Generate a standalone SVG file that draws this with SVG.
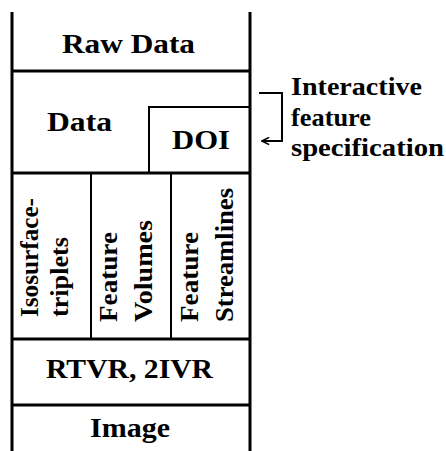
<svg xmlns="http://www.w3.org/2000/svg" width="446" height="451" viewBox="0 0 446 451">
<style>
text{font-family:'Liberation Serif','Times New Roman',serif;font-weight:700;fill:#000;}
.b{font-size:27px;}
.v{font-size:25px;}
.s{font-size:25px;}
.frame{stroke:#000;stroke-width:3;fill:none;}
.thin{stroke:#000;stroke-width:2;fill:none;}
</style>
<defs>
<marker id="ah" viewBox="0 0 10 10" refX="9" refY="5" markerWidth="9" markerHeight="9" markerUnits="userSpaceOnUse" orient="auto">
<path d="M1,1 L9,5 L1,9" fill="none" stroke="#000" stroke-width="1.8"/>
</marker>
</defs>
<rect width="446" height="451" fill="#fff"/>
<g id="frame">
<line class="frame" x1="12" y1="12" x2="12" y2="451"/>
<line class="frame" x1="250" y1="12" x2="250" y2="451"/>
</g>
<g id="raw-data">
<text class="b" x="62" y="53" textLength="133" lengthAdjust="spacingAndGlyphs">Raw Data</text>
<line class="frame" x1="12" y1="71" x2="250" y2="71"/>
</g>
<g id="data">
<text class="b" x="47" y="131" textLength="65" lengthAdjust="spacingAndGlyphs">Data</text>
</g>
<g id="doi">
<path class="thin" d="M149,173 V107 H250"/>
<text class="b" x="172" y="149" textLength="58" lengthAdjust="spacingAndGlyphs">DOI</text>
</g>
<g id="row-divider">
<line class="frame" x1="12" y1="173" x2="250" y2="173"/>
</g>
<g id="isosurface">
<text class="v" transform="translate(38,317) rotate(-90)" textLength="119" lengthAdjust="spacingAndGlyphs">Isosurface-</text>
<text class="v" transform="translate(68,317) rotate(-90)" textLength="80" lengthAdjust="spacingAndGlyphs">triplets</text>
<line class="thin" x1="91" y1="173" x2="91" y2="339"/>
</g>
<g id="feature-volumes">
<text class="v" transform="translate(117,322) rotate(-90)" textLength="90" lengthAdjust="spacingAndGlyphs">Feature</text>
<text class="v" transform="translate(152,322) rotate(-90)" textLength="102" lengthAdjust="spacingAndGlyphs">Volumes</text>
<line class="thin" x1="171" y1="173" x2="171" y2="339"/>
</g>
<g id="feature-streamlines">
<text class="v" transform="translate(198,322) rotate(-90)" textLength="90" lengthAdjust="spacingAndGlyphs">Feature</text>
<text class="v" transform="translate(233,322) rotate(-90)" textLength="134" lengthAdjust="spacingAndGlyphs">Streamlines</text>
</g>
<g id="rtvr">
<line class="frame" x1="12" y1="339" x2="250" y2="339"/>
<text class="b" x="46" y="378" textLength="167" lengthAdjust="spacingAndGlyphs">RTVR, 2IVR</text>
</g>
<g id="image">
<line class="frame" x1="12" y1="405" x2="250" y2="405"/>
<text class="b" x="90" y="437" textLength="80" lengthAdjust="spacingAndGlyphs">Image</text>
</g>
<g id="interactive">
<text class="s" x="291" y="95" textLength="131" lengthAdjust="spacingAndGlyphs">Interactive</text>
<text class="s" x="291" y="126" textLength="80" lengthAdjust="spacingAndGlyphs">feature</text>
<text class="s" x="291" y="156" textLength="153" lengthAdjust="spacingAndGlyphs">specification</text>
</g>
<g id="connectors">
<path class="thin" d="M259,93 H282 V141 H262" marker-end="url(#ah)"/>
</g>
</svg>
